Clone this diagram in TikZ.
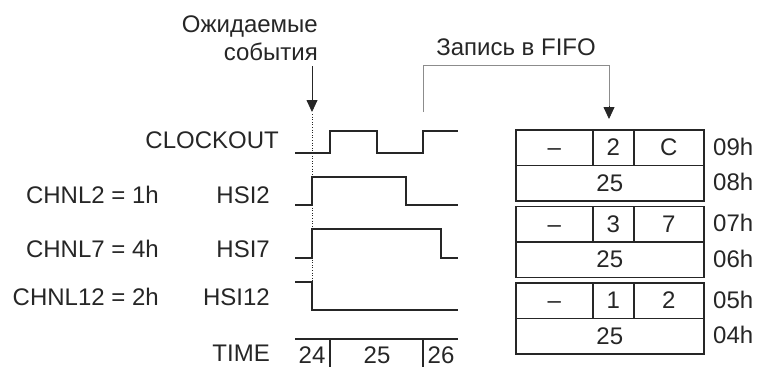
\documentclass[tikz,border=0pt]{standalone}
\usepackage{fontspec}
\setmainfont{Liberation Sans}
\usetikzlibrary{positioning,arrows.meta}
\definecolor{sigDark}{RGB}{38,38,38}
\definecolor{sigGray}{RGB}{140,140,140}

\begin{document}
\begin{tikzpicture}[x=1pt,y=-1pt,
      lbl/.style={inner sep=0pt,font=\fontsize{24}{28}\selectfont,text=sigDark},
      wave/.style={sigDark,line width=1.6pt},
      cell/.style={draw=sigDark,line width=1.6pt,inner sep=0pt,anchor=north west,minimum height=35.5pt,text height=16.5pt,text depth=0pt,font=\fontsize{24}{28}\selectfont,text=sigDark},
      arr/.style={-{Triangle[length=12pt,width=11pt]},sigDark,line width=0.8pt},
      wrline/.style={sigGray,line width=1pt}]
    \useasboundingbox (0,0) rectangle (757,367);
    % captions
    \node[lbl,align=right,anchor=base east] (expect) at (318,60) {Ожидаемые\\события};
    \node[lbl,anchor=base] (wrlbl) at (516,55) {Запись в FIFO};
    % signal names
    \node[lbl,anchor=base east] (clk) at (279,148) {CLOCKOUT};
    \node[lbl,anchor=base east] (hsi2) at (270,203) {HSI2};
    \node[lbl,anchor=base east] (hsi7) at (270,257) {HSI7};
    \node[lbl,anchor=base east] (hsi12) at (270,305) {HSI12};
    \node[lbl,anchor=base east] (time) at (270,361) {TIME};
    \node[lbl,anchor=base east] (ch2) at (159,203) {CHNL2 = 1h};
    \node[lbl,anchor=base east] (ch7) at (159,257) {CHNL7 = 4h};
    \node[lbl,anchor=base east] (ch12) at (159,305) {CHNL12 = 2h};
    % waveforms
    \draw[wave] (295,153) -| (330,131) -| (377,153) -| (423,131) -- (458,131);
    \draw[wave] (295,205) -| (312,177) -| (406,205) -- (458,205);
    \draw[wave] (295,258) -| (312,229) -| (441,258) -- (458,258);
    \draw[wave] (295,282) -| (312,310) -- (458,310);
    \draw[wave] (295,339) -- (458,339);
    \draw[wave] (330,339) -- (330,367) (423,339) -- (423,367);
    \node[lbl,anchor=base] (t24) at (312,363) {24};
    \node[lbl,anchor=base] (t25) at (377,363) {25};
    \node[lbl,anchor=base] (t26) at (441,363) {26};
    \draw[sigDark,line width=0.6pt,dotted] (312,114) -- (312,282);
    % arrows
    \coordinate (evt) at (312,112);
    \coordinate (wr) at (423,112);
    \coordinate (fifoin) at (609,119);
    \draw[arr] ([yshift=-6pt]expect.south -| evt) -- (evt);
    \draw[wrline] (wr) |- ([yshift=-10pt]wrlbl.south -| fifoin) -- ([yshift=12pt]fifoin);
    \draw[arr] ([yshift=13pt]fifoin) -- (fifoin);
    % FIFO
    \foreach \g/\a/\b/\ha/\hb [count=\i] in {129/2/C/09h/08h,205.5/3/7/07h/06h,282/1/2/05h/04h}{
      \node[cell,minimum width=77pt] (m\i) at (515,\g) {--};
      \node[cell,minimum width=41pt] (a\i) at (592,\g) {\a};
      \node[cell,minimum width=70pt] (b\i) at (633,\g) {\b};
      \node[cell,minimum width=188pt] (v\i) at (515,\g+35.5) {25};
      \node[lbl,anchor=west] (ha\i) at (713,\g+17.75) {\ha};
      \node[lbl,anchor=west] (hb\i) at (713,\g+53.25) {\hb};
    }
  \end{tikzpicture}
\end{document}
